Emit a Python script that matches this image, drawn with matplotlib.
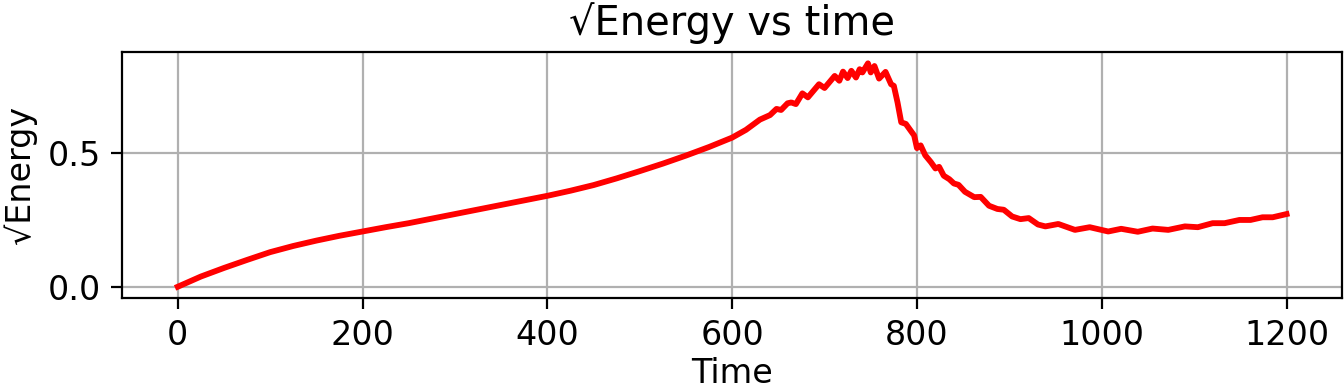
import numpy as np
import matplotlib.pyplot as plt

# values
time = [0, 25, 50, 75, 100, 125, 150, 175, 200, 225, 250, 275, 300, 325, 350, 375,
        400, 425, 450, 475, 500, 525, 550, 575, 600, 615,
        630, 641, 648, 653, 660, 664, 669, 676, 682, 694, 700, 711, 716, 720, 725,
        729, 734, 738, 741, 747, 750, 754, 759, 766, 772, 775, 779, 783, 788, 793,
        797, 800, 804, 809, 815, 820, 824, 829, 835, 840, 845, 852, 862, 869, 878,
        887, 894, 903, 912, 921, 931, 939, 953, 971, 987, 1007, 1021, 1039, 1055,
        1072, 1090, 1104, 1120, 1133, 1149, 1161, 1174, 1185, 1200]
sqrt_energy = [0.0, 0.038, 0.07, 0.1, 0.129, 0.152, 0.172, 0.19, 0.206, 0.222,
               0.237, 0.254, 0.271, 0.288, 0.305, 0.322, 0.339, 0.358, 0.379, 0.404,
               0.431, 0.459, 0.489, 0.521, 0.556, 0.585,
               0.623, 0.64, 0.663, 0.659,
               0.684, 0.687, 0.681, 0.721, 0.706, 0.755, 0.741, 0.786, 0.768, 0.802,
               0.778, 0.805, 0.780, 0.811, 0.799, 0.833, 0.799, 0.823, 0.776, 0.801,
               0.755, 0.749, 0.687, 0.613, 0.607, 0.583, 0.564, 0.517, 0.527, 0.49,
               0.465, 0.441, 0.447, 0.414, 0.401, 0.385, 0.38, 0.354, 0.334, 0.335,
               0.302, 0.29, 0.287, 0.262, 0.252, 0.256, 0.232, 0.225, 0.234, 0.212,
               0.222, 0.206, 0.216, 0.205, 0.217, 0.212, 0.225, 0.222, 0.237, 0.237,
               0.249, 0.249, 0.259, 0.259, 0.271]

plt.rcParams["font.size"] = 12
plt.rcParams["xtick.major.size"] = 4
plt.rcParams["ytick.major.size"] = 4
fig, ax = plt.subplots(figsize=(6.72, 1.96), dpi=200)
fig.subplots_adjust(left=0.091, right=0.9985, top=0.867, bottom=0.240)
ax.plot(time, sqrt_energy, color="red", linewidth=2.1)
ax.set_title("√Energy vs time")
ax.set_xlabel("Time", labelpad=2)
ax.set_ylabel("√Energy")
ax.grid(True)
fig.savefig("out.png", dpi=200)
